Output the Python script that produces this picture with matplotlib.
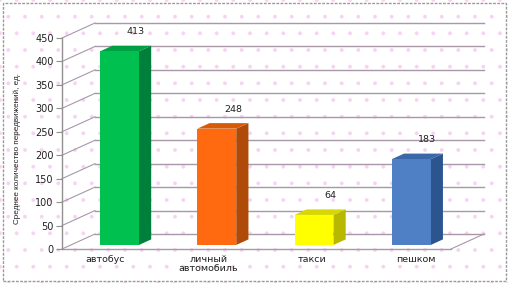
import matplotlib
matplotlib.use("Agg")
import matplotlib.pyplot as plt
from matplotlib.patches import Polygon, Rectangle
from matplotlib import font_manager
import numpy as np

categories = ["автобус", "личный\nавтомобиль", "такси", "пешком"]
values = [413, 248, 64, 183]
yticks = [0, 50, 100, 150, 200, 250, 300, 350, 400, 450]
ylabel = "Среднее количество передвижений, ед."

front_cols = ["#00c050", "#ff6a10", "#ffff00", "#4f7fc4"]
side_cols = ["#00803a", "#b04a08", "#b8b800", "#2c5590"]
top_cols = ["#00a044", "#d85a08", "#d8d800", "#3a68a8"]

W, H = 508, 283
fig = plt.figure(figsize=(W / 100, H / 100), dpi=100)
fig.patch.set_facecolor("white")

# background dotted pattern
plt.rcParams["hatch.linewidth"] = 0.3
bg = Rectangle((0, 0), 1, 1, transform=fig.transFigure, facecolor="white",
               edgecolor="#f6d2f3", hatch=".", linewidth=0, zorder=-10)
fig.patches.append(bg)
border = Rectangle((2.5 / W, 2.5 / H), 1 - 5 / W, 1 - 5 / H, transform=fig.transFigure,
                   fill=False, edgecolor="#9a9a9a", linewidth=1.0,
                   linestyle=(0, (2, 1)), zorder=-9)
fig.patches.append(border)

x0, xr, y0, ytop = 62, 451, 249, 38
ax = fig.add_axes([x0 / W, (H - y0) / H, (xr - x0) / W, (y0 - ytop) / H])
ax.set_zorder(1)
ax.set_xlim(-0.5, 3.5)
ax.set_ylim(0, 450)
ax.patch.set_visible(False)

px_x = (xr - x0) / 4.0
px_y = (y0 - ytop) / 450.0
DX = 33 / px_x
DY = 15 / px_y


def P(x, y, d):
    return (x + d * DX, y + d * DY)


grid_c = "#a898a8"
for v in yticks:
    a, b = P(-0.5, v, 1), P(3.5, v, 1)
    ax.plot([a[0], b[0]], [a[1], b[1]], color=grid_c, lw=1.0, clip_on=False, zorder=1)
    a, b = P(-0.5, v, 0), P(-0.5, v, 1)
    ax.plot([a[0], b[0]], [a[1], b[1]], color=grid_c, lw=0.8, clip_on=False, zorder=1)
# floor
a, b = P(-0.5, 0, 0), P(3.5, 0, 0)
ax.plot([a[0], b[0]], [a[1], b[1]], color=grid_c, lw=1.0, clip_on=False, zorder=1)
a, b = P(3.5, 0, 0), P(3.5, 0, 1)
ax.plot([a[0], b[0]], [a[1], b[1]], color=grid_c, lw=0.8, clip_on=False, zorder=1)

d0, d1 = 0.27, 0.64
hw = 0.2
for i, v in enumerate(values):
    xl, xrr = i - hw, i + hw
    front = [P(xl, 0, d0), P(xrr, 0, d0), P(xrr, v, d0), P(xl, v, d0)]
    side = [P(xrr, 0, d0), P(xrr, 0, d1), P(xrr, v, d1), P(xrr, v, d0)]
    top = [P(xl, v, d0), P(xrr, v, d0), P(xrr, v, d1), P(xl, v, d1)]
    ax.add_patch(Polygon(side, closed=True, facecolor=side_cols[i], edgecolor="none",
                         clip_on=False, zorder=3))
    ax.add_patch(Polygon(top, closed=True, facecolor=top_cols[i], edgecolor="none",
                         clip_on=False, zorder=3))
    ax.add_patch(Polygon(front, closed=True, facecolor=front_cols[i], edgecolor="none",
                         clip_on=False, zorder=4))
    lx, ly = P(i + 0.04, v, d1)
    ax.annotate(str(v), (lx, ly), xytext=(0, 10), textcoords="offset points",
                ha="center", va="center", fontsize=6.8, color="#202020",
                annotation_clip=False)

for s in ["top", "right", "bottom"]:
    ax.spines[s].set_visible(False)
ax.spines["left"].set_color("#909090")
ax.spines["left"].set_linewidth(1.0)
ax.set_yticks(yticks)
ax.tick_params(axis="y", length=4, color="#909090", labelsize=7, pad=2,
               labelcolor="#202020")
ax.set_xticks([-0.06 + 1.066 * i for i in range(len(categories))])
ax.set_xticklabels(categories, fontsize=6.8, color="#202020", linespacing=1.0)
ax.tick_params(axis="x", length=0, pad=4)

names = {f.name for f in font_manager.fontManager.ttflist}
lab_fam = ["Liberation Sans Narrow", "DejaVu Sans"] if "Liberation Sans Narrow" in names \
    else ["Liberation Sans", "DejaVu Sans"]
lab_size = 6.8 if "Liberation Sans Narrow" in names else 5.9
fig.text(17 / W, 1 - 148 / H, ylabel, rotation=90, ha="center", va="center",
         fontsize=lab_size, color="#202020", family=lab_fam)

fig.savefig("out.png", dpi=100, facecolor=fig.get_facecolor())
